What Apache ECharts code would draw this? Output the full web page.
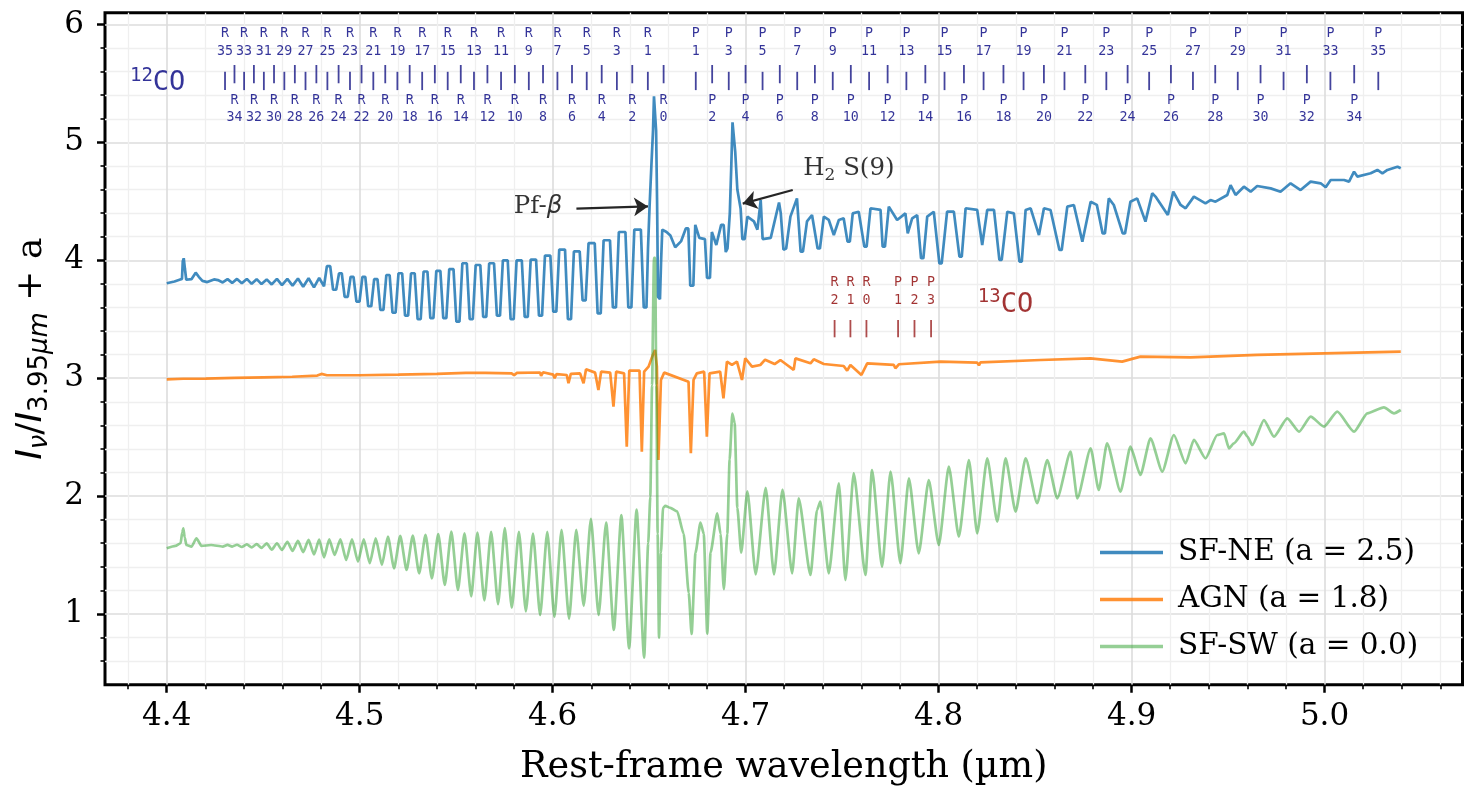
<!DOCTYPE html>
<html><head><meta charset="utf-8">
<script src="https://cdn.jsdelivr.net/npm/echarts@6/dist/echarts.min.js"></script>
<style>html,body{margin:0;padding:0;background:#fff}#c{width:1478px;height:796px}</style>
</head><body><div id="c"></div>
<script>
// ---------------- DATA ----------------
const sfNE = [
[4.4000,3.805],[4.4040,3.820],[4.4066,3.835],[4.4079,3.842],[4.4083,3.990],[4.4088,4.017],[4.4094,3.930],[4.4101,3.835],[4.4128,3.840],[4.4150,3.895],[4.4166,3.860],[4.4185,3.825],[4.4210,3.815],[4.4245,3.838],[4.4265,3.832],
[4.4290,3.812],[4.4315,3.840],[4.4339,3.808],[4.4364,3.842],[4.4389,3.805],[4.4415,3.842],[4.4440,3.800],[4.4466,3.840],[4.4491,3.798],[4.4518,3.838],[4.4544,3.795],[4.4571,3.842],[4.4597,3.790],[4.4625,3.842],[4.4652,3.785],[4.4680,3.845],[4.4707,3.775],[4.4735,3.848],[4.4763,3.770],[4.4790,3.850],[4.4815,3.780],[4.4830,3.950],
[4.4847,3.950],[4.4862,3.750],[4.4878,3.750],[4.4893,3.890],
[4.4907,3.890],[4.4922,3.690],[4.4938,3.690],[4.4953,3.860],
[4.4968,3.860],[4.4983,3.650],[4.4999,3.650],[4.5014,3.860],
[4.5029,3.860],[4.5044,3.610],[4.5060,3.610],[4.5075,3.840],
[4.5092,3.840],[4.5107,3.580],[4.5123,3.580],[4.5138,3.875],
[4.5155,3.875],[4.5170,3.555],[4.5186,3.555],[4.5201,3.890],
[4.5220,3.890],[4.5235,3.530],[4.5251,3.530],[4.5266,3.890],
[4.5285,3.890],[4.5300,3.500],[4.5316,3.500],[4.5331,3.905],
[4.5351,3.905],[4.5366,3.510],[4.5382,3.510],[4.5397,3.910],
[4.5418,3.910],[4.5433,3.510],[4.5449,3.510],[4.5464,3.925],
[4.5486,3.925],[4.5501,3.480],[4.5517,3.480],[4.5532,3.975],
[4.5555,3.975],[4.5570,3.500],[4.5586,3.500],[4.5601,3.960],
[4.5625,3.960],[4.5640,3.520],[4.5656,3.520],[4.5671,3.975],
[4.5696,3.975],[4.5711,3.530],[4.5727,3.530],[4.5742,4.000],
[4.5767,4.000],[4.5782,3.500],[4.5798,3.500],[4.5813,4.000],
[4.5840,4.000],[4.5855,3.520],[4.5871,3.520],[4.5886,4.005],
[4.5914,4.005],[4.5929,3.530],[4.5945,3.530],[4.5960,4.040],
[4.5988,4.040],[4.6003,3.565],[4.6019,3.565],[4.6034,4.090],
[4.6064,4.090],[4.6079,3.500],[4.6095,3.500],[4.6110,4.075],
[4.6140,4.075],[4.6155,3.660],[4.6171,3.660],[4.6186,4.145],
[4.6218,4.145],[4.6233,3.550],[4.6249,3.550],[4.6264,4.170],
[4.6297,4.170],[4.6312,3.600],[4.6328,3.600],[4.6343,4.240],
[4.6377,4.240],[4.6392,3.600],[4.6408,3.600],[4.6423,4.260],
[4.6457,4.260],[4.6472,3.600],[4.6486,3.600],[4.6494,4.100],
[4.6502,4.450],[4.6512,4.820],[4.6520,5.100],[4.6525,5.390],[4.6531,5.390],[4.6536,5.100],[4.6541,4.510],[4.6546,3.690],[4.6556,3.670],[4.6562,4.000],[4.6568,4.260],[4.6590,4.240],[4.6610,4.210],[4.6635,4.110],[4.6665,4.160],[4.6690,4.270],[4.6703,4.270],[4.6713,3.785],[4.6729,3.785],[4.6739,4.300],[4.6760,4.190],[4.6789,4.180],[4.6800,3.850],[4.6815,3.850],[4.6825,4.240],[4.6848,4.130],[4.6873,4.300],[4.6886,4.300],[4.6897,4.070],[4.6906,4.100],[4.6918,4.400],[4.6926,4.820],[4.6932,5.170],[4.6938,5.170],[4.6946,4.920],[4.6957,4.600],[4.6974,4.440],[4.6983,4.180],[4.6995,4.180],[4.7009,4.370],[4.7043,4.330],[4.7061,4.260],[4.7078,4.510],[4.7088,4.180],[4.7098,4.180],[4.7130,4.190],[4.7173,4.490],[4.7182,4.400],[4.7196,4.090],[4.7210,4.100],
[4.7232,4.370],[4.7266,4.525],[4.7285,4.073],[4.7297,4.073],[4.7318,4.330],[4.7344,4.384],[4.7373,4.100],[4.7385,4.100],[4.7405,4.370],[4.7431,4.342],[4.7457,4.214],[4.7483,4.342],[4.7508,4.356],[4.7528,4.158],[4.7540,4.158],[4.7555,4.398],[4.7586,4.412],[4.7615,4.116],[4.7627,4.116],[4.7647,4.441],[4.7699,4.427],[4.7710,4.116],[4.7722,4.116],[4.7742,4.455],[4.7785,4.342],[4.7828,4.398],[4.7840,4.228],[4.7863,4.356],[4.7889,4.384],[4.7909,4.017],[4.7921,4.017],[4.7941,4.370],[4.7975,4.412],[4.8004,3.974],[4.8016,3.974],[4.8044,4.412],[4.8079,4.412],[4.8108,4.031],[4.8120,4.031],[4.8140,4.441],[4.8200,4.427],[4.8226,4.130],[4.8252,4.427],[4.8287,4.427],[4.8315,4.003],[4.8327,4.003],[4.8356,4.412],[4.8390,4.398],[4.8419,3.988],[4.8431,3.988],[4.8451,4.427],[4.8477,4.441],[4.8520,4.214],[4.8546,4.441],[4.8580,4.427],[4.8626,4.087],[4.8638,4.087],[4.8667,4.455],[4.8701,4.469],[4.8745,4.158],[4.8788,4.497],
[4.8820,4.470],[4.8850,4.228],[4.8862,4.228],[4.8882,4.525],[4.8908,4.469],[4.8954,4.228],[4.8966,4.228],[4.8994,4.497],[4.9029,4.525],[4.9072,4.328],[4.9107,4.568],[4.9124,4.540],[4.9188,4.384],[4.9216,4.582],[4.9254,4.469],[4.9280,4.441],[4.9323,4.540],[4.9383,4.483],[4.9409,4.511],[4.9435,4.497],[4.9496,4.554],[4.9513,4.638],[4.9539,4.554],[4.9582,4.624],[4.9617,4.582],[4.9651,4.630],[4.9721,4.610],[4.9772,4.582],[4.9824,4.653],[4.9876,4.596],[4.9928,4.667],[4.9980,4.653],[5.0006,4.619],[5.0032,4.681],[5.0101,4.681],[5.0127,4.667],[5.0153,4.752],[5.0170,4.710],[5.0239,4.738],[5.0274,4.766],[5.0300,4.738],[5.0326,4.766],[5.0378,4.794],[5.0395,4.780]
];

const agn = [
[4.4000,2.990],[4.4085,2.995],[4.4200,2.997],[4.4350,3.002],[4.4500,3.007],[4.4650,3.012],[4.4780,3.022],[4.4802,3.036],[4.4830,3.025],[4.5000,3.025],[4.5200,3.030],[4.5400,3.036],[4.5550,3.045],[4.5650,3.045],[4.5787,3.040],[4.5800,3.025],[4.5815,3.045],[4.5935,3.048],[4.5940,3.020],[4.5950,3.050],[4.6003,3.030],[4.6010,3.000],[4.6020,3.035],[4.6073,3.027],[4.6082,2.957],[4.6094,3.036],[4.6142,3.041],[4.6160,2.957],[4.6173,3.075],[4.6220,3.047],[4.6237,2.900],[4.6251,3.055],[4.6298,3.047],[4.6315,2.759],[4.6329,3.055],[4.6370,3.041],[4.6384,2.419],[4.6397,3.064],[4.6450,3.064],[4.6462,2.377],[4.6474,3.055],[4.6497,3.098],[4.6519,3.197],[4.6531,3.239],[4.6540,3.098],[4.6548,2.306],[4.6561,2.985],[4.6578,3.047],[4.6704,2.970],[4.6716,2.363],[4.6730,2.985],[4.6747,3.041],[4.6785,3.055],[4.6799,2.504],[4.6813,3.041],[4.6868,3.055],[4.6885,2.829],[4.6903,3.140],[4.6929,3.112],[4.6955,3.140],[4.6981,2.985],[4.6998,3.169],[4.7033,3.098],[4.7076,3.112],[4.7101,3.157],[4.7150,3.120],[4.7180,3.154],[4.7215,3.112],[4.7249,3.070],[4.7258,3.168],[4.7336,3.126],[4.7353,3.160],[4.7405,3.120],[4.7508,3.103],[4.7526,3.064],[4.7543,3.112],[4.7600,3.027],[4.7630,3.126],[4.7768,3.112],[4.7776,3.084],[4.7794,3.118],[4.8010,3.140],[4.8200,3.132],[4.8209,3.109],[4.8217,3.134],[4.8529,3.154],[4.8787,3.168],[4.8951,3.140],[4.9046,3.183],[4.9306,3.177],[4.9651,3.197],[4.9997,3.211],[5.0395,3.225]
];

const sfSW = [
[4.4000,1.557],[4.4045,1.578],[4.4072,1.600],[4.4080,1.690],[4.4086,1.727],[4.4093,1.650],[4.4102,1.585],[4.4128,1.571],[4.4154,1.642],[4.4180,1.577],[4.4230,1.585],
[4.4290,1.572],[4.4315,1.586],[4.4339,1.572],[4.4364,1.587],[4.4389,1.568],[4.4415,1.590],[4.4440,1.565],[4.4466,1.592],[4.4491,1.560],[4.4518,1.598],[4.4544,1.545],[4.4571,1.600],[4.4597,1.543],[4.4625,1.612],[4.4652,1.535],[4.4680,1.620],[4.4707,1.525],[4.4735,1.628],[4.4763,1.505],[4.4790,1.630],[4.4815,1.480],[4.4842,1.633],
[4.4870,1.500],[4.4900,1.633],[4.4930,1.458],[4.4960,1.632],[4.4991,1.444],[4.5021,1.633],[4.5052,1.430],[4.5083,1.642],[4.5115,1.416],[4.5146,1.656],[4.5178,1.387],[4.5210,1.662],[4.5243,1.373],[4.5275,1.665],[4.5308,1.345],[4.5341,1.670],[4.5374,1.302],[4.5407,1.678],[4.5441,1.246],[4.5475,1.698],[4.5509,1.204],[4.5543,1.684],[4.5578,1.150],
[4.5610,1.690],[4.5646,1.116],[4.5681,1.697],[4.5717,1.084],[4.5752,1.728],[4.5788,1.053],[4.5825,1.697],[4.5861,1.022],[4.5898,1.681],[4.5935,0.991],[4.5972,1.697],[4.6009,0.975],[4.6046,1.713],[4.6085,0.959],[4.6122,1.713],[4.6161,1.069],[4.6198,1.807],[4.6238,0.991],[4.6277,1.776],[4.6317,0.865],[4.6356,1.838],[4.6396,0.708],[4.6435,1.885],[4.6474,0.630],
[4.6495,1.600],[4.6506,1.995],[4.6515,2.940],[4.6525,4.020],[4.6531,4.020],[4.6537,2.940],[4.6544,1.680],[4.6551,0.800],[4.6561,1.520],[4.6572,1.900],[4.6584,1.917],[4.6610,1.900],[4.6645,1.870],[4.6679,1.680],[4.6705,1.180],[4.6720,0.830],[4.6740,1.520],[4.6766,1.776],[4.6783,1.680],[4.6801,0.834],[4.6818,1.520],[4.6853,1.854],[4.6870,1.680],[4.6887,1.210],[4.6905,1.680],[4.6917,2.310],[4.6931,2.700],[4.6943,2.620],[4.6957,1.900],[4.6977,1.520],[4.7009,2.040],[4.7052,1.336],[4.7104,2.070],[4.7147,1.336],[4.7191,2.055],
[4.7241,1.345],[4.7275,1.981],[4.7336,1.331],[4.7370,1.882],[4.7387,1.953],[4.7431,1.345],[4.7483,2.108],[4.7517,1.288],[4.7560,2.193],[4.7621,1.331],[4.7655,2.221],[4.7707,1.401],[4.7751,2.207],[4.7802,1.430],[4.7846,2.151],[4.7897,1.514],[4.7949,2.136],[4.8001,1.585],[4.8053,2.249],[4.8105,1.656],[4.8157,2.306],[4.8200,1.684],[4.8252,2.320],[4.8304,1.783],[4.8347,2.320],[4.8399,1.868],[4.8451,2.320],[4.8511,1.939],[4.8563,2.306],[4.8615,1.981],[4.8684,2.377],[4.8719,1.981],[4.8788,2.405],
[4.8830,2.052],[4.8873,2.447],[4.8943,2.038],[4.8994,2.419],[4.9046,2.179],[4.9098,2.490],[4.9159,2.207],[4.9219,2.518],[4.9280,2.278],[4.9323,2.476],[4.9383,2.320],[4.9444,2.518],[4.9479,2.532],[4.9505,2.405],[4.9530,2.447],[4.9582,2.546],[4.9600,2.504],[4.9626,2.433],[4.9686,2.645],[4.9738,2.504],[4.9807,2.659],[4.9868,2.546],[4.9928,2.674],[4.9997,2.589],[5.0066,2.716],[5.0153,2.546],[5.0222,2.702],[5.0308,2.753],[5.0360,2.702],[5.0395,2.730]
];

const seriesNames = ['SF-NE (a = 2.5)', 'AGN (a = 1.8)', 'SF-SW (a = 0.0)'];

// 12CO line identifications
const co12RJ = [35,34,33,32,31,30,29,28,27,26,25,24,23,22,21,20,19,18,17,16,15,14,13,12,11,10,9,8,7,6,5,4,3,2,1,0];
const co12RWave = [4.43020,4.43510,4.44009,4.44517,4.45033,4.45559,4.46094,4.46638,4.47191,4.47754,4.48325,4.48906,4.49496,4.50096,4.50705,4.51324,4.51952,4.52589,4.53237,4.53893,4.54560,4.55237,4.55922,4.56618,4.57325,4.58040,4.58764,4.59500,4.60246,4.61002,4.61765,4.62541,4.63327,4.64125,4.64932,4.65749];
const co12PJ = [1,2,3,4,5,6,7,8,9,10,11,12,13,14,15,16,17,18,19,20,21,22,23,24,25,26,27,28,29,30,31,32,33,34,35];
const co12PWave = [4.67416,4.68265,4.69125,4.69996,4.70877,4.71770,4.72673,4.73588,4.74514,4.75451,4.76399,4.77358,4.78330,4.79313,4.80307,4.81313,4.82331,4.83361,4.84403,4.85457,4.86523,4.87602,4.88693,4.89795,4.90911,4.92040,4.93181,4.94336,4.95503,4.96684,4.97877,4.99084,5.00304,5.01538,5.02786];
// 13CO line identifications
const co13Names = ['R\n2','R\n1','R\n0','P\n1','P\n2','P\n3'];
const co13Wave = [4.7461,4.7543,4.7626,4.7790,4.7875,4.7961];

// axis ticks
const xTickValues = [4.4,4.5,4.6,4.7,4.8,4.9,5.0];
const xTickLabels = ['4.4','4.5','4.6','4.7','4.8','4.9','5.0'];
const xMinorValues = [4.38,4.42,4.44,4.46,4.48,4.52,4.54,4.56,4.58,4.62,4.64,4.66,4.68,4.72,4.74,4.76,4.78,4.82,4.84,4.86,4.88,4.92,4.94,4.96,4.98,5.02,5.04,5.06];
const yTickValues = [1,2,3,4,5,6];
const yTickLabels = ['1','2','3','4','5','6'];
const yMinorValues = [0.6,0.8,1.2,1.4,1.6,1.8,2.2,2.4,2.6,2.8,3.2,3.4,3.6,3.8,4.2,4.4,4.6,4.8,5.2,5.4,5.6,5.8];

// ---------------- LAYOUT (positions in data units) ----------------
const X_MIN = 4.368, X_MAX = 5.0715, Y_MIN = 0.4, Y_MAX = 6.1;
const Y_TOP_LABEL = 5.845, Y_BOT_LABEL = 5.283, Y_TICK_LOW = 5.521, Y_TICK_HIGH = 5.579;
const Y13_LABEL = 3.737, Y13_TICK = 3.420;

const colors = ['rgba(31,119,180,0.85)','rgba(255,127,14,0.85)','rgba(44,160,44,0.5)'];
const NAVY = '#000080', DRED = '#8b0000';
const SERIF = 'DejaVu Serif', SANS = 'DejaVu Sans', MONO = 'DejaVu Sans Mono';

const topLabels = [], botLabels = [], lowTicks = [], highTicks = [];
function addLines(waves, js, br) {
  waves.forEach((w, i) => {
    const j = js[i];
    if (j % 2 === 1) { topLabels.push({value:[w, Y_TOP_LABEL], name: br + '\n' + j}); lowTicks.push([w, Y_TICK_LOW]); }
    else { botLabels.push({value:[w, Y_BOT_LABEL], name: br + '\n' + j}); highTicks.push([w, Y_TICK_HIGH]); }
  });
}
addLines(co12RWave, co12RJ, 'R');
addLines(co12PWave, co12PJ, 'P');

const labelStyle = (color) => ({show:true, position:'inside', formatter: p => p.name, color: color,
  fontFamily: MONO, fontSize: 13.3, lineHeight: 17.7});

function fmt(values, labels) {
  return v => { const i = values.findIndex(t => Math.abs(t - v) < 1e-6); return i >= 0 ? labels[i] : ''; };
}

const chart = echarts.init(document.getElementById('c'), null, {renderer:'canvas'});
const option = {
  animation: false,
  backgroundColor: '#fff',
  grid: {left: 105, right: 15.5, top: 12.7, bottom: 111.3, show: true, borderColor: '#000', borderWidth: 3, backgroundColor: 'transparent'},
  legend: {
    data: seriesNames, orient: 'vertical', left: 1100, top: 537, padding: 0,
    icon: 'rect', itemWidth: 63, itemHeight: 3.5, itemGap: 16,
    textStyle: {fontFamily: SERIF, fontSize: 29.5, color: '#000', lineHeight: 31, padding: [0,0,0,10]},
    selectedMode: false
  },
  xAxis: [{
    type: 'value', min: X_MIN, max: X_MAX, position: 'bottom',
    axisLine: {show: false},
    axisTick: {show: true, customValues: xTickValues, length: 8, lineStyle: {color: '#000', width: 2.5}},
    axisLabel: {show: true, customValues: xTickValues, formatter: fmt(xTickValues, xTickLabels), fontFamily: SERIF, fontSize: 31, color: '#000', margin: 17},
    splitLine: {show: true, lineStyle: {color: '#dcdcdc', width: 1.6}},
    name: 'Rest-frame wavelength (µm)', nameLocation: 'middle', nameGap: 64,
    nameTextStyle: {fontFamily: SERIF, fontSize: 36.5, color: '#000'}
  }, {
    type: 'value', min: X_MIN, max: X_MAX, position: 'bottom', offset: 0,
    axisLine: {show: false},
    axisTick: {show: true, customValues: xMinorValues, length: 4.5, lineStyle: {color: '#000', width: 1.6}},
    axisLabel: {show: false},
    splitLine: {show: true, lineStyle: {color: '#efefef', width: 1.3}}
  }],
  yAxis: [{
    type: 'value', min: Y_MIN, max: Y_MAX, position: 'left',
    axisLine: {show: false},
    axisTick: {show: true, customValues: yTickValues, length: 8, lineStyle: {color: '#000', width: 2.5}},
    axisLabel: {show: true, customValues: yTickValues, formatter: fmt(yTickValues, yTickLabels), fontFamily: SERIF, fontSize: 31, color: '#000', margin: 21},
    splitLine: {show: true, lineStyle: {color: '#dcdcdc', width: 1.6}},
    name: '{i|I}{s|ν}{n|/}{i|I}{s2|3.95}{s|μm}{t| + a}', nameLocation: 'middle', nameGap: 51, nameRotate: 90,
    nameTextStyle: {
      color: '#000',
      rich: {
        i: {fontFamily: SANS, fontStyle: 'italic', fontSize: 36, lineHeight: 44, verticalAlign: 'middle', color: '#000'},
        n: {fontFamily: SANS, fontSize: 36, lineHeight: 44, verticalAlign: 'middle', color: '#000'},
        t: {fontFamily: SERIF, fontSize: 36, lineHeight: 44, verticalAlign: 'middle', color: '#000'},
        s: {fontFamily: SANS, fontStyle: 'italic', fontSize: 26, lineHeight: 27, verticalAlign: 'bottom', color: '#000'},
        s2: {fontFamily: SANS, fontSize: 26, lineHeight: 27, verticalAlign: 'bottom', color: '#000'}
      }
    }
  }, {
    type: 'value', min: Y_MIN, max: Y_MAX, position: 'left', offset: 0,
    axisLine: {show: false},
    axisTick: {show: true, customValues: yMinorValues, length: 4.5, lineStyle: {color: '#000', width: 1.6}},
    axisLabel: {show: false},
    splitLine: {show: true, lineStyle: {color: '#efefef', width: 1.3}}
  }],
  series: [
    {name: seriesNames[0], type: 'line', data: sfNE, showSymbol: false, symbol: 'none', lineStyle: {width: 2.7, color: colors[0]}, itemStyle: {color: colors[0]}, z: 3},
    {name: seriesNames[1], type: 'line', data: agn, showSymbol: false, symbol: 'none', lineStyle: {width: 2.7, color: colors[1]}, itemStyle: {color: colors[1]}, z: 4},
    {name: seriesNames[2], type: 'line', data: sfSW, showSymbol: false, symbol: 'none', smooth: 0.2, smoothMonotone: 'x', lineStyle: {width: 2.7, color: colors[2]}, itemStyle: {color: colors[2]}, z: 5},
    {name: 'co12top', type: 'scatter', data: topLabels, symbolSize: 0, label: labelStyle(NAVY), silent: true, z: 6},
    {name: 'co12bot', type: 'scatter', data: botLabels, symbolSize: 0, label: labelStyle(NAVY), silent: true, z: 6},
    {name: 'co12tickLow', type: 'scatter', data: lowTicks, symbol: 'rect', symbolSize: [1.8, 18.3], itemStyle: {color: '#151585'}, silent: true, z: 6},
    {name: 'co12tickHigh', type: 'scatter', data: highTicks, symbol: 'rect', symbolSize: [1.8, 18.3], itemStyle: {color: '#151585'}, silent: true, z: 6},
    {name: 'co13lab', type: 'scatter', data: co13Wave.map((w, i) => ({value: [w, Y13_LABEL], name: co13Names[i]})), symbolSize: 0, label: labelStyle(DRED), silent: true, z: 6},
    {name: 'co13tick', type: 'scatter', data: co13Wave.map(w => [w, Y13_TICK]), symbol: 'rect', symbolSize: [1.8, 17.3], itemStyle: {color: '#9a2020'}, silent: true, z: 6},
    {name: 'annot', type: 'scatter', symbolSize: 0, silent: true, z: 7,
      data: [
        {value: [4.3953, 5.502], label: {show: true, position: 'inside', formatter: '{u|12}{c|CO}',
          rich: {u: {fontFamily: MONO, fontSize: 19, lineHeight: 20, verticalAlign: 'top', color: NAVY}, c: {fontFamily: MONO, fontSize: 27, lineHeight: 34, verticalAlign: 'middle', color: NAVY}}}},
        {value: [4.8347, 3.621], label: {show: true, position: 'inside', formatter: '{u|13}{c|CO}',
          rich: {u: {fontFamily: MONO, fontSize: 19, lineHeight: 20, verticalAlign: 'top', color: DRED}, c: {fontFamily: MONO, fontSize: 27, lineHeight: 34, verticalAlign: 'middle', color: DRED}}}},
        {value: [4.5924, 4.452], label: {show: true, position: 'inside', formatter: '{n|Pf-}{b|β}',
          rich: {n: {fontFamily: SERIF, fontSize: 24.4, lineHeight: 30, color: '#000'}, b: {fontFamily: SANS, fontStyle: 'italic', fontSize: 24.4, lineHeight: 30, color: '#000'}}}},
        {value: [4.7535, 4.779], label: {show: true, position: 'inside', formatter: '{n|H}{s|2}{n| S(9)}',
          rich: {n: {fontFamily: SERIF, fontSize: 24.4, lineHeight: 32, verticalAlign: 'middle', color: '#000'}, s: {fontFamily: SERIF, fontSize: 17, lineHeight: 19, verticalAlign: 'bottom', color: '#000'}}}}
      ],
      markLine: {
        silent: true, animation: false, symbol: ['none', 'arrow'], symbolSize: 14,
        lineStyle: {color: '#262626', width: 2.2, type: 'solid'}, label: {show: false}, emphasis: {disabled: true},
        data: [
          [{coord: [4.6123, 4.4385]}, {coord: [4.6494, 4.4571]}],
          [{coord: [4.7244, 4.5963]}, {coord: [4.6985, 4.4809]}]
        ]
      }
    }
  ]
};
chart.setOption(option);
</script>
</body></html>
